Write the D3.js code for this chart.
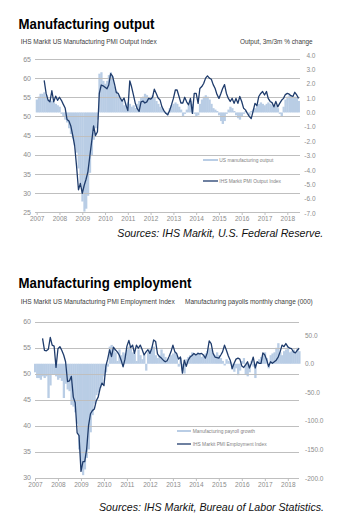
<!DOCTYPE html>
<html><head><meta charset="utf-8">
<script src="https://cdn.jsdelivr.net/npm/d3@7"></script>
<style>
body{margin:0;background:#fff}
svg{display:block}
text{font-family:"Liberation Sans",Arial,Helvetica,sans-serif}
</style>
</head><body>
<svg id="c" width="348" height="521"></svg>
<script>
// ---------- DATA ----------
const years = ["2007","2008","2009","2010","2011","2012","2013","2014","2015","2016","2017","2018"];
const outLeftTicks = [25,30,35,40,45,50,55,60,65];
const outRightTicks = [-7,-6,-5,-4,-3,-2,-1,0,1,2,3,4];
const empLeftTicks = [30,35,40,45,50,55,60];
const empRightTicks = [-200,-150,-100,-50,0,50];

const barsStart = "2007-01";   // first month of bar series
const lineStart = "2007-05";   // first month of PMI series

// US manufacturing output, 3m/3m % change (right axis), monthly from Jan 2007
const mfgOutput = [
 0.9,1.1,1.3,1.3,1.4,1.2,0.9,0.9,0.8,0.7,
 0.6,0.5,0.4,-0.1,-0.3,-0.5,-0.7,-1.1,-1.5,-1.8,
 -2.3,-2.8,-3.9,-5.0,-6.2,-6.9,-6.7,-5.8,-4.2,-3.0,
 -1.9,-1.1,-0.5,2.7,2.8,2.2,2.0,2.2,2.6,2.8,
 2.5,1.8,1.5,1.2,1.0,0.8,0.5,0.6,0.7,0.6,
 0.4,0.5,0.3,0.6,0.8,1.0,1.1,1.3,1.2,1.0,
 1.1,1.2,1.0,0.8,0.6,0.4,0.3,0.1,-0.1,-0.2,
 0.3,0.5,0.6,0.7,0.6,0.4,0.2,-0.3,-0.1,0.2,
 0.5,0.8,0.6,-0.1,-0.3,-0.2,0.6,0.9,1.1,1.2,
 1.1,0.9,0.6,0.3,0.2,0.1,-0.2,-0.6,-0.8,-0.6,
 -0.1,0.2,0.4,0.3,0.1,-0.2,-0.4,-0.5,-0.3,-0.1,
 0.1,0.0,-0.2,0.1,0.2,0.3,0.5,0.6,0.7,0.6,
 0.5,0.6,0.7,0.6,0.5,0.4,0.5,0.3,-0.1,-0.3,
 0.4,0.9,1.1,1.2,1.2,1.0,1.1,1.0,0.8
];

// IHS Markit US Manufacturing PMI Output Index (left axis), monthly from May 2007
const pmiOutput = [
 59.4,56.0,54.3,53.8,56.7,53.8,55.3,54.2,55.0,54.2,
 53.2,52.2,49.2,48.8,47.5,45.0,42.3,37.0,30.8,32.5,
 29.9,32.0,33.5,35.5,39.5,43.5,47.5,45.0,46.0,56.0,
 58.2,58.0,57.6,57.2,58.2,61.2,60.5,58.5,56.2,56.0,
 54.8,54.0,54.8,53.0,51.5,59.3,57.8,55.6,53.4,52.0,
 51.3,53.8,54.0,53.5,53.8,54.7,54.5,55.0,57.1,56.0,
 54.8,54.3,52.5,51.5,50.8,50.4,51.5,53.0,54.7,56.9,
 56.9,55.2,53.5,53.5,55.0,53.8,53.0,54.7,50.8,56.0,
 56.0,53.4,57.3,57.8,58.6,60.0,60.6,60.0,59.7,58.3,
 57.3,55.7,54.7,56.0,57.3,58.3,56.0,54.7,53.9,54.7,
 53.4,54.7,53.4,55.2,53.9,52.1,51.7,50.8,50.0,49.4,
 51.3,53.4,52.8,55.2,56.0,56.5,55.6,56.5,54.7,53.9,
 53.6,52.5,53.9,52.5,53.4,54.2,54.7,55.7,56.0,55.8,
 55.4,55.2,56.3,55.6,54.7
];

// Manufacturing payrolls monthly change (000) (right axis), monthly from Jan 2007
const payrolls = [
 -15,-25,-25,-28,-22,-25,-22,-60,-38,-18,
 -18,-22,-28,-25,-30,-60,-35,-45,-48,-72,
 -75,-85,-105,-150,-180,-195,-185,-165,-150,-120,
 -90,-70,-55,-50,-42,-35,-22,-15,-5,30,
 33,28,20,5,25,15,20,18,25,30,
 28,20,18,5,25,15,8,15,-12,20,
 25,30,30,15,10,15,25,18,12,5,
 10,15,18,20,15,-5,10,-12,-17,8,
 12,15,20,18,15,20,18,12,15,18,
 22,28,25,18,15,20,15,10,5,-3,
 8,5,3,-10,-14,-8,-20,-12,5,10,
 -18,-22,-15,5,-5,-25,2,8,12,15,
 20,10,-8,15,18,20,28,36,20,15,
 22,25,30,20,22,25,20,28,22
];

// IHS Markit US Manufacturing PMI Employment Index (left axis), monthly from May 2007
const pmiEmployment = [
 56.8,54.5,54.4,54.7,57.0,55.5,55.3,51.2,54.8,55.2,
 54.5,53.6,52.3,48.5,48.6,49.5,45.5,44.4,38.6,38.1,
 31.2,33.1,33.1,35.5,40.0,42.3,42.9,43.2,44.8,45.5,
 47.2,48.2,47.7,51.5,52.8,54.6,53.3,55.1,54.6,54.2,
 53.6,52.6,51.3,52.8,55.3,56.4,55.0,55.5,53.9,55.5,
 54.9,55.5,54.6,53.6,54.2,54.6,53.9,54.9,56.5,56.2,
 53.8,53.3,53.0,52.6,52.3,52.5,53.3,54.2,55.5,54.2,
 53.9,52.8,53.2,50.1,52.6,51.4,52.6,53.2,53.5,53.9,
 53.6,53.9,53.8,53.9,53.6,53.0,54.0,56.3,55.8,53.9,
 53.2,53.1,53.0,53.6,54.2,55.5,54.5,53.4,52.6,51.0,
 52.0,52.8,53.0,52.8,51.5,51.2,51.7,52.3,51.1,52.0,
 53.2,51.1,52.3,52.0,52.0,54.0,53.6,52.6,51.4,52.3,
 52.0,52.3,52.6,53.2,54.2,55.5,55.2,55.8,55.2,54.9,
 54.8,54.2,54.0,54.5,54.9
];

// ---------- DRAW ----------
const BAR = "#b9cde5", LINE = "#1f3c6c", GRID = "#bfbfbf", TICK = "#8c8c8c";
const svg = d3.select("#c");
const parseM = d3.timeParse("%Y-%m");
const toSeries = (start, vals) => vals.map((v,i)=>({date: d3.timeMonth.offset(parseM(start), i), v}));

function txt(x, y, s, o) {
  const t = svg.append("text").attr("x", x).attr("y", y).text(s)
    .attr("font-size", o.size).attr("fill", o.fill || "#000");
  if (o.weight) t.attr("font-weight", o.weight);
  if (o.style) t.attr("font-style", o.style);
  if (o.len) t.attr("textLength", o.len).attr("lengthAdjust", "spacingAndGlyphs");
  return t;
}

function chart(c) {
  const g = svg.append("g");
  const x = d3.scaleTime().domain([parseM("2007-01"), parseM("2018-01")]).range(c.xRange);
  const yL = d3.scaleLinear().domain(c.leftDomain).range(c.leftRange);
  const yR = d3.scaleLinear().domain(c.rightDomain).range(c.rightRange);
  const bars = toSeries(barsStart, c.bars);
  const line = toSeries(lineStart, c.line);

  // bars
  g.append("g").selectAll("rect").data(bars).join("rect")
    .attr("x", d => x(d.date) - (x(d3.timeMonth.offset(d.date,1)) - x(d.date))/2)
    .attr("width", d => x(d3.timeMonth.offset(d.date,1)) - x(d.date) + 0.4)
    .attr("y", d => Math.min(yR(d.v), yR(0)))
    .attr("height", d => Math.abs(yR(d.v) - yR(0)))
    .attr("fill", BAR);

  // gridlines
  g.append("g").selectAll("line").data(c.leftTicks).join("line")
    .attr("x1", c.gridX[0]).attr("x2", c.gridX[1])
    .attr("y1", d => Math.round(yL(d)) + 0.5).attr("y2", d => Math.round(yL(d)) + 0.5)
    .attr("stroke", GRID).attr("stroke-width", 1);

  // line
  g.append("path").datum(line)
    .attr("d", d3.line().x(d => x(d.date)).y(d => yL(d.v)))
    .attr("fill", "none").attr("stroke", LINE).attr("stroke-width", 1.3)
    .attr("stroke-linejoin", "round");

  // left axis
  const la = g.append("g").attr("transform", `translate(${c.gridX[0]-2},0)`)
    .call(d3.axisLeft(yL).tickValues(c.leftTicks).tickSize(0).tickPadding(2).tickFormat(d3.format("d")));
  la.select(".domain").remove();
  la.selectAll("text").attr("fill", TICK).attr("font-size", 7).attr("font-family", null);

  // right axis
  const ra = g.append("g").attr("transform", `translate(${c.rightX},0)`)
    .call(d3.axisRight(yR).tickValues(c.rightTicks).tickSize(0).tickPadding(0).tickFormat(d => d.toFixed(1)));
  ra.select(".domain").remove();
  ra.selectAll("text").attr("fill", TICK).attr("font-size", 6.5).attr("font-family", null)
    .attr("text-anchor", c.rightAnchor).attr("x", 0);

  // bottom axis
  const yb = Math.round(yL(c.leftDomain[0])) + 0.5;
  const ba = g.append("g").attr("transform", `translate(0,${yb})`)
    .call(d3.axisBottom(x).tickValues(years.map(y => d3.timeParse("%Y")(y))).tickSize(2.5).tickPadding(2)
      .tickFormat(d3.timeFormat("%Y")));
  ba.select(".domain").remove();
  ba.selectAll(".tick line").attr("stroke", GRID);
  ba.selectAll("text").attr("fill", TICK).attr("font-size", 6.5).attr("font-family", null)
    .attr("y", 6).attr("dy", "0.35em");

  // legend
  c.legend.forEach((L, i) => {
    g.append("line").attr("x1", L.x1).attr("x2", L.x2).attr("y1", L.y).attr("y2", L.y)
      .attr("stroke", i === 0 ? BAR : LINE).attr("stroke-width", i === 0 ? 2 : 1.3);
    txt(L.tx, L.y + 1.7, L.label, {size: 5, fill: "#7f7f7f", len: L.len});
  });
}

// Chart 1
txt(18.5, 29, "Manufacturing output", {size: 15, weight: "bold", len: 136});
txt(20.7, 43.5, "IHS Markit US Manufacturing PMI Output Index", {size: 6.5, fill: "#404040", len: 136});
txt(240, 43.5, "Output, 3m/3m % change", {size: 6.5, fill: "#404040", len: 72.7});
chart({
  xRange: [36.7, 287.3], gridX: [35, 300],
  leftDomain: [25, 65], leftRange: [212, 59], leftTicks: outLeftTicks,
  rightDomain: [-7, 4], rightRange: [213, 55], rightTicks: outRightTicks,
  rightX: 315.5, rightAnchor: "end",
  bars: mfgOutput, line: pmiOutput,
  legend: [
    {x1: 203, x2: 218, tx: 219.3, y: 160, label: "US manufacturing output", len: 54},
    {x1: 203, x2: 218, tx: 219.3, y: 181, label: "IHS Markit PMI Output Index", len: 61.7}
  ]
});
txt(117.3, 236.7, "Sources: IHS Markit, U.S. Federal Reserve.", {size: 10.5, style: "italic", fill: "#111", len: 206});

// Chart 2
txt(18.5, 287.7, "Manufacturing employment", {size: 15, weight: "bold", len: 173});
txt(20.7, 304, "IHS Markit US Manufacturing PMI Employment Index", {size: 6.5, fill: "#404040", len: 154});
txt(185, 304, "Manufacturing payolls monthly change (000)", {size: 6.5, fill: "#404040", len: 127.7});
chart({
  xRange: [35, 287.8], gridX: [35, 299],
  leftDomain: [30, 60], leftRange: [477.7, 321.7], leftTicks: empLeftTicks,
  rightDomain: [-200, 50], rightRange: [478, 335.2], rightTicks: empRightTicks,
  rightX: 305, rightAnchor: "start",
  bars: payrolls, line: pmiEmployment,
  legend: [
    {x1: 177, x2: 191, tx: 192.7, y: 431, label: "Manufacturing payroll growth", len: 62.3},
    {x1: 177, x2: 191, tx: 192.7, y: 444, label: "IHS Markit PMI Employment Index", len: 74}
  ]
});
txt(99, 510.7, "Sources: IHS Markit, Bureau of Labor Statistics.", {size: 10.5, style: "italic", fill: "#111", len: 225});
</script>
</body></html>
